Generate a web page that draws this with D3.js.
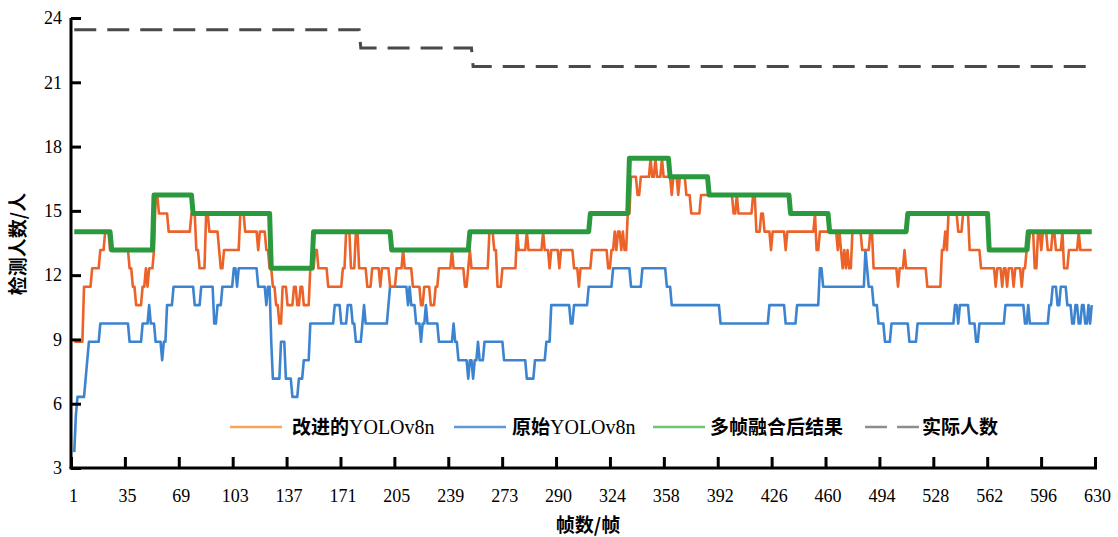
<!DOCTYPE html>
<html>
<head>
<meta charset="utf-8">
<script src="https://cdn.jsdelivr.net/npm/d3@7"></script>
<style>
  html, body { margin: 0; padding: 0; background: #fff; }
  svg { display: block; }
</style>
</head>
<body>
<svg id="chart" width="1118" height="537"></svg>
<script>
// Frame-axis tick labels (as printed on the axis)
const frameLabels = ["1","35","69","103","137","171","205","239","273","290","324","358","392","426","460","494","528","562","596","630"];
const countTicks = [3, 6, 9, 12, 15, 18, 21, 24];
const lastFrame = 628;

// Each series is a list of [frame where the value starts, count]
const actualRuns = [[3, 23.45], [179, 22.60], [248, 21.74]];

const fusedRuns = [
  [3, 14.03], [26, 13.17], [52, 15.74], [76, 14.88], [124, 12.32], [150, 14.03],
  [198, 13.17], [246, 14.03], [320, 14.88], [344, 17.45], [369, 16.59], [393, 15.74],
  [443, 14.88], [467, 14.03], [515, 14.88], [565, 13.17], [589, 14.03]
];

const improvedRuns = [
  [3,8.89],[9,11.46],[14,12.32],[19,13.17],[22,14.03],[25,13.17],[37,12.32],[39,11.46],[41,10.60],
  [45,11.46],[47,12.32],[48,11.46],[49,12.32],[52,13.17],[53,15.74],[55,14.88],[61,14.03],[75,14.88],
  [78,13.17],[80,12.32],[84,14.88],[86,14.03],[92,13.17],[93,12.32],[95,13.17],[105,14.88],[108,14.03],
  [116,13.17],[117,14.03],[121,13.17],[123,12.32],[125,11.46],[127,10.60],[129,9.74],[131,11.46],
  [134,10.60],[138,11.46],[140,10.60],[142,11.46],[144,10.60],[148,12.32],[151,13.17],[153,12.32],
  [159,11.46],[168,12.32],[170,14.03],[173,12.32],[176,14.03],[178,12.32],[183,11.46],[186,12.32],
  [191,11.46],[192,12.32],[197,11.46],[201,12.32],[205,13.17],[206,12.32],[211,11.46],[216,10.60],
  [218,11.46],[222,10.60],[225,11.46],[227,12.32],[235,13.17],[236,12.32],[243,11.46],[245,12.32],
  [246,13.17],[247,12.32],[258,14.03],[261,13.17],[263,11.46],[266,12.32],[275,14.03],[276,13.17],
  [281,14.03],[282,13.17],[291,14.03],[292,13.17],[295,12.32],[296,13.17],[301,12.32],[302,13.17],
  [310,12.32],[313,11.46],[314,12.32],[321,13.17],[331,12.32],[333,13.17],[335,14.03],[336,13.17],
  [337,14.03],[339,13.17],[340,14.03],[341,13.17],[343,14.88],[345,16.59],[349,15.74],[351,16.59],
  [357,17.45],[358,16.59],[360,17.45],[361,16.59],[364,17.45],[365,16.59],[370,15.74],[371,16.59],
  [374,15.74],[375,16.59],[379,15.74],[382,14.88],[388,15.74],[408,14.88],[410,15.74],[411,14.88],
  [420,15.74],[422,14.03],[425,14.88],[427,14.03],[431,13.17],[432,14.03],[440,13.17],[441,14.03],
  [458,14.88],[459,13.17],[461,14.03],[472,13.17],[473,14.03],[474,13.17],[475,12.32],[476,13.17],
  [477,12.32],[478,13.17],[479,12.32],[481,14.03],[487,13.17],[492,14.03],[494,12.32],[509,11.46],
  [510,12.32],[513,13.17],[514,12.32],[527,11.46],[536,13.17],[538,14.03],[539,13.17],[540,14.88],
  [546,14.03],[549,14.88],[553,13.17],[560,12.32],[569,11.46],[570,12.32],[573,11.46],[574,12.32],
  [576,11.46],[577,12.32],[580,11.46],[581,12.32],[585,11.46],[586,12.32],[588,13.17],[590,14.03],
  [593,12.32],[595,14.03],[597,13.17],[598,14.03],[601,13.17],[604,14.03],[606,13.17],[610,14.03],
  [611,12.32],[614,13.17],[620,14.03],[621,13.17]
];

const originalRuns = [
  [3,3.74],[4,5.46],[5,6.32],[10,7.17],[11,8.03],[12,8.89],[19,9.74],[37,8.89],[45,9.74],[49,10.60],[50,9.74],
  [53,8.89],[57,8.03],[58,8.89],[60,10.60],[64,11.46],[77,10.60],[81,11.46],[89,9.74],[91,10.60],
  [94,11.46],[101,12.32],[103,11.46],[104,12.32],[116,11.46],[121,10.60],[122,11.46],[124,8.89],
  [125,7.17],[130,8.89],[133,7.17],[137,6.32],[141,7.17],[144,8.03],[148,9.74],[163,10.60],[167,9.74],
  [171,10.60],[174,9.74],[176,8.89],[180,9.74],[181,10.60],[182,9.74],[196,10.60],[197,11.46],
  [208,10.60],[209,11.46],[210,10.60],[213,9.74],[216,8.89],[217,9.74],[219,10.60],[220,9.74],
  [227,8.89],[236,9.74],[237,8.89],[239,8.03],[245,7.17],[246,8.03],[248,7.17],[249,8.03],[251,8.89],
  [252,8.03],[255,8.89],[267,8.03],[281,7.17],[286,8.03],[293,8.89],[296,10.60],[308,9.74],[310,10.60],
  [319,11.46],[334,12.32],[345,11.46],[352,12.32],[367,11.46],[370,10.60],[400,9.74],[430,10.60],
  [440,9.74],[447,10.60],[461,12.32],[463,11.46],[489,13.17],[490,12.32],[491,11.46],[494,10.60],
  [497,9.74],[501,8.89],[505,9.74],[516,8.89],[521,9.74],[544,10.60],[546,9.74],[547,10.60],
  [553,9.74],[557,8.89],[559,9.74],[575,10.60],[587,9.74],[589,10.60],[590,9.74],[602,10.60],
  [604,11.46],[607,10.60],[609,11.46],[613,10.60],[616,9.74],[618,10.60],[620,9.74],[622,10.60],
  [624,9.74],[626,10.60],[627,9.74],[628,10.60]
];

const seriesNames = ["改进的YOLOv8n", "原始YOLOv8n", "多帧融合后结果", "实际人数"];

// ---- layout ----
const svg = d3.select("#chart");
const plotLeft = 71, plotRight = 1095, plotTop = 18, plotBottom = 468;

const x = d3.scaleLinear().domain([1, 630]).range([plotLeft, plotRight]);
const xTick = d3.scalePoint().domain(frameLabels).range([plotLeft, plotRight]);
const y = d3.scaleLinear().domain([3, 24]).range([plotBottom, plotTop]);

// turn runs into vertices: each count is held until the next run begins
function runPoints(runs) {
  const pts = [];
  runs.forEach((r, i) => {
    const end = i < runs.length - 1 ? runs[i + 1][0] - 1 : lastFrame;
    pts.push([r[0], r[1]]);
    if (end > r[0]) pts.push([end, r[1]]);
  });
  return pts;
}

const line = d3.line().x(d => x(d[0])).y(d => y(d[1])).curve(d3.curveLinear);

const plot = svg.append("g");

plot.append("path").datum(runPoints(originalRuns))
  .attr("d", line).attr("fill", "none")
  .attr("stroke", "#3c84cf").attr("stroke-width", 2.6).attr("stroke-linejoin", "round");

plot.append("path").datum(runPoints(improvedRuns))
  .attr("d", line).attr("fill", "none")
  .attr("stroke", "#ec632a").attr("stroke-width", 2.6).attr("stroke-linejoin", "round");

plot.append("path").datum(runPoints(fusedRuns))
  .attr("d", line).attr("fill", "none")
  .attr("stroke", "#2b9a3e").attr("stroke-width", 5).attr("stroke-linejoin", "round");

plot.append("path").datum(runPoints(actualRuns))
  .attr("d", line).attr("fill", "none")
  .attr("stroke", "#4a4a4a").attr("stroke-width", 3)
  .attr("stroke-dasharray", "22,11");

// ---- axes ----
const serif = "'Liberation Serif', 'Times New Roman', serif";
const cjk = "'Noto Sans CJK SC', 'Noto Sans', sans-serif";

const yAxis = svg.append("g").attr("transform", `translate(${plotLeft},0)`)
  .call(d3.axisRight(y).tickValues(countTicks).tickSize(10).tickFormat(d3.format("d")));
yAxis.select(".domain").attr("stroke", "#000").attr("stroke-width", 3)
  .attr("d", `M0,${plotTop}V${plotBottom}`);
yAxis.selectAll(".tick line").attr("stroke", "#000").attr("stroke-width", 3);
yAxis.selectAll(".tick text")
  .attr("x", -9).attr("text-anchor", "end")
  .attr("font-family", serif).attr("font-size", 18).attr("fill", "#000");

const xAxis = svg.append("g").attr("transform", `translate(0,${plotBottom})`)
  .call(d3.axisTop(xTick).tickSize(11));
xAxis.select(".domain").attr("stroke", "#000").attr("stroke-width", 3)
  .attr("d", `M${plotLeft - 1.5},0H${plotRight + 2}`);
xAxis.selectAll(".tick line").attr("stroke", "#000").attr("stroke-width", 3);
xAxis.selectAll(".tick text")
  .attr("x", 2).attr("y", 34).attr("dy", 0)
  .attr("font-family", serif).attr("font-size", 18).attr("fill", "#000");

svg.append("text")
  .attr("x", 588).attr("y", 532)
  .attr("text-anchor", "middle")
  .attr("font-family", cjk).attr("font-weight", "bold").attr("font-size", 19)
  .text("帧数/帧");

svg.append("text")
  .attr("transform", "translate(25,244) rotate(-90)")
  .attr("text-anchor", "middle")
  .attr("font-family", cjk).attr("font-weight", "bold").attr("font-size", 19)
  .text("检测人数/人");

// ---- legend ----
const legendY = 427;
const legendItems = [
  { name: seriesNames[0], x0: 230, x1: 282, tx: 292, color: "#f5a55a", dash: null },
  { name: seriesNames[1], x0: 454, x1: 506, tx: 512, color: "#5d9bd8", dash: null },
  { name: seriesNames[2], x0: 653, x1: 705, tx: 710, color: "#6cc56f", dash: null },
  { name: seriesNames[3], x0: 865, x1: 919, tx: 922, color: "#8c8c8c", dash: "22,10" }
];
const lg = svg.append("g");
legendItems.forEach(it => {
  lg.append("line")
    .attr("x1", it.x0).attr("x2", it.x1).attr("y1", legendY).attr("y2", legendY)
    .attr("stroke", it.color).attr("stroke-width", 2.5)
    .attr("stroke-dasharray", it.dash);
  const t = lg.append("text").attr("x", it.tx).attr("y", legendY + 7).attr("font-size", 19);
  const m = it.name.match(/^([^A-Za-z]+)(.*)$/);
  t.append("tspan").attr("font-family", cjk).attr("font-weight", "bold").text(m[1]);
  if (m[2]) t.append("tspan").attr("font-family", serif).attr("font-size", 20).text(m[2]);
});
</script>
</body>
</html>
